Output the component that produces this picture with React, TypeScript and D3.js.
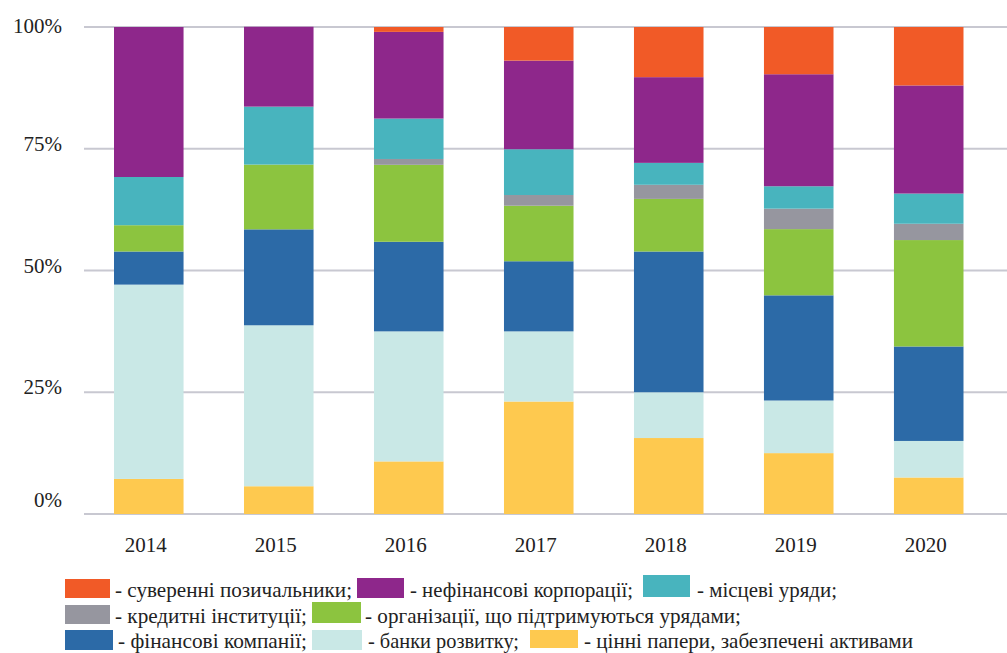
import React from "react";
import * as d3 from "d3";

const years = ["2014", "2015", "2016", "2017", "2018", "2019", "2020"];
const keys = ["abs", "dev", "fin", "gse", "credit", "local", "nonfin", "sov"];

const absValues = [7.2, 5.7, 10.8, 23.1, 15.6, 12.5, 7.5];
const devValues = [39.9, 33.05, 26.7, 14.4, 9.4, 10.8, 7.5];
const finValues = [6.8, 19.7, 18.4, 14.4, 28.9, 21.6, 19.4];
const gseValues = [5.4, 13.3, 15.8, 11.4, 10.8, 13.6, 21.85];
const creditValues = [0, 0, 1.2, 2.2, 2.9, 4.2, 3.35];
const localValues = [9.9, 11.9, 8.3, 9.4, 4.5, 4.6, 6.2];
const nonfinValues = [30.8, 16.4, 17.8, 18.2, 17.6, 23.0, 22.2];
const sovValues = [0, 0, 1.0, 6.9, 10.3, 9.7, 12.0];

const yTicks = [0, 25, 50, 75, 100];

const colors: Record<string, string> = {
  sov: "#F15A27",
  nonfin: "#8E278B",
  local: "#48B4BE",
  credit: "#96969F",
  gse: "#8CC43F",
  fin: "#2C6AA7",
  dev: "#C9E8E6",
  abs: "#FEC94F",
};

const legendRows = [
  [
    { key: "sov", label: "- суверенні позичальники;", sw: [65, 579, 45, 19], tx: 115, tw: 237 },
    { key: "nonfin", label: "- нефінансові корпорації;", sw: [357, 578, 47, 20], tx: 410, tw: 223 },
    { key: "local", label: "- місцеві уряди;", sw: [643, 575, 47, 22], tx: 697, tw: 140 },
  ],
  [
    { key: "credit", label: "- кредитні інституції;", sw: [65, 605, 45, 19], tx: 115, tw: 192 },
    { key: "gse", label: "- організації, що підтримуються урядами;", sw: [312, 602, 49, 21], tx: 365, tw: 376 },
  ],
  [
    { key: "fin", label: "- фінансові компанії;", sw: [65, 630, 48, 20], tx: 118, tw: 189 },
    { key: "dev", label: "- банки розвитку;", sw: [312, 630, 50, 20], tx: 368, tw: 151 },
    { key: "abs", label: "- цінні папери, забезпечені активами", sw: [530, 630, 48, 18], tx: 584, tw: 329 },
  ],
];
const legendBaselines = [597, 623, 648];

export default function App() {
  const table = years.map((yr, i) => ({
    year: yr,
    abs: absValues[i],
    dev: devValues[i],
    fin: finValues[i],
    gse: gseValues[i],
    credit: creditValues[i],
    local: localValues[i],
    nonfin: nonfinValues[i],
    sov: sovValues[i],
  }));
  const stacked = d3.stack<any>().keys(keys)(table);

  const x = d3
    .scaleBand()
    .domain(years)
    .range([84, 993.5])
    .paddingInner(0.465)
    .paddingOuter(0.2308);
  const y = d3.scaleLinear().domain([0, 100]).range([514, 27]);

  const font = "'Liberation Serif', 'Times New Roman', serif";

  return (
    <svg
      width={1007}
      height={653}
      style={{ position: "absolute", left: 0, top: 0, background: "#fff" }}
    >
      {yTicks.map((t) => (
        <line
          key={"g" + t}
          x1={84}
          x2={1007}
          y1={y(t)}
          y2={y(t)}
          stroke="#C8C8D1"
          strokeWidth={2}
        />
      ))}
      {yTicks.map((t) => (
        <text
          key={"yl" + t}
          x={62}
          y={Math.min(Math.max(y(t) + 2, 33), 507)}
          textAnchor="end"
          fontFamily={font}
          fontSize={21}
          fill="#222"
        >
          {t + "%"}
        </text>
      ))}
      {stacked.map((s) => (
        <g key={s.key} fill={colors[s.key]}>
          {s.map((d, i) => (
            <rect
              key={i}
              x={x(years[i])}
              width={x.bandwidth()}
              y={y(d[1])}
              height={Math.max(0, y(d[0]) - y(d[1]))}
            />
          ))}
        </g>
      ))}
      {years.map((yr) => (
        <text
          key={"xl" + yr}
          x={(x(yr) as number) + x.bandwidth() / 2 - 3}
          y={552}
          textAnchor="middle"
          fontFamily={font}
          fontSize={21}
          fill="#222"
        >
          {yr}
        </text>
      ))}
      {legendRows.map((row, ri) =>
        row.map((it) => (
          <g key={it.key}>
            <rect
              x={it.sw[0]}
              y={it.sw[1]}
              width={it.sw[2]}
              height={it.sw[3]}
              fill={colors[it.key]}
            />
            <text
              x={it.tx}
              y={legendBaselines[ri]}
              fontFamily={font}
              fontSize={22}
              fill="#222"
              textLength={it.tw}
              lengthAdjust="spacingAndGlyphs"
            >
              {it.label}
            </text>
          </g>
        ))
      )}
    </svg>
  );
}
